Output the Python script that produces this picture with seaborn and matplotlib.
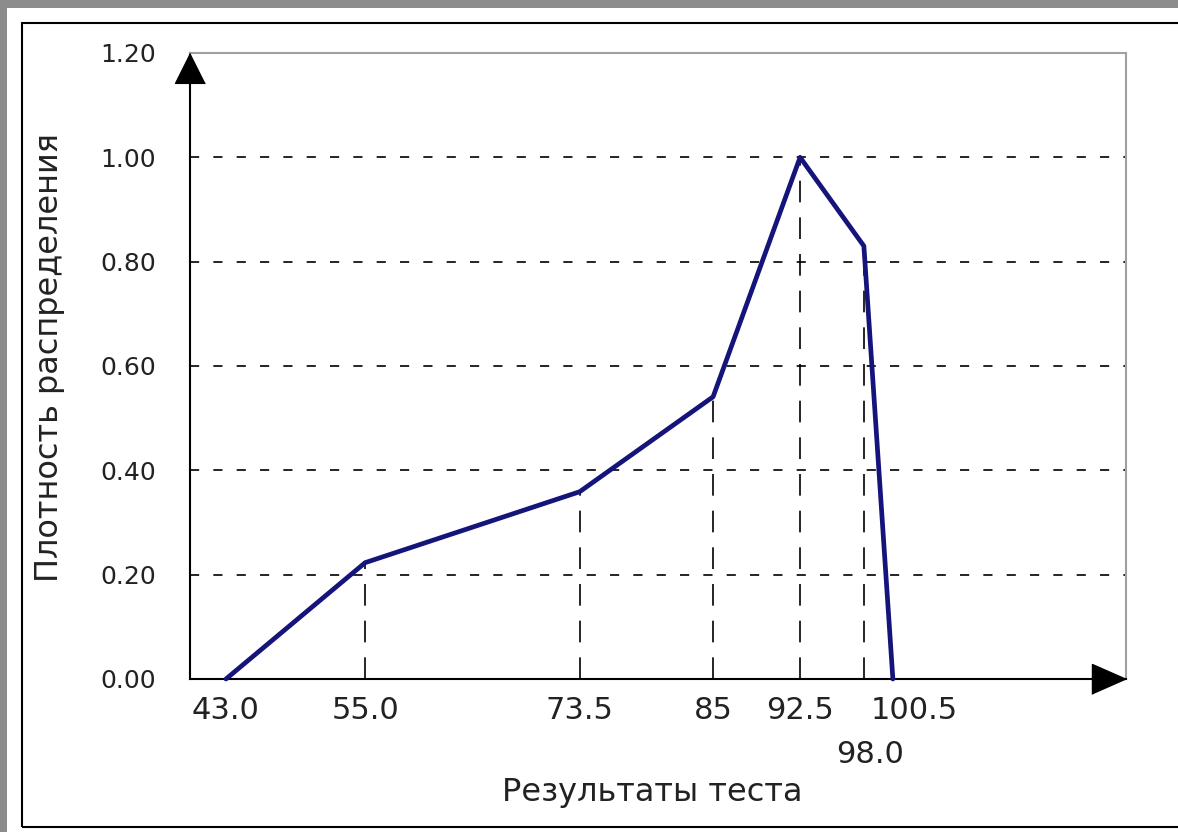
import matplotlib
matplotlib.use("Agg")
import matplotlib.pyplot as plt
import matplotlib.patches as mpatches
from matplotlib.transforms import ScaledTranslation
import pandas as pd
import seaborn as sns

# Data
scores = [43.0, 55.0, 73.5, 85.0, 92.5, 98.0, 100.5]
density = [0.0, 0.223, 0.359, 0.541, 1.00, 0.83, 0.0]
tick_labels = ["43.0", "55.0", "73.5", "85", "92.5", "98.0", "100.5"]
y_ticks = [0.0, 0.2, 0.4, 0.6, 0.8, 1.0, 1.2]
x_label = "Результаты теста"
y_label = "Плотность распределения"

df = pd.DataFrame({"score": scores, "density": density})

sns.set_style("white")
plt.rcParams["font.family"] = ["DejaVu Sans"]

W, H = 1178, 832
fig = plt.figure(figsize=(W / 100, H / 100), dpi=100)
fig.patch.set_facecolor("#8c8c8c")

# white card with black frame
fig.add_artist(mpatches.Rectangle((7 / W, 0), 1, 1 - 8 / H, transform=fig.transFigure,
                                  facecolor="white", edgecolor="none", zorder=0))
fig.add_artist(mpatches.Rectangle((22 / W, 5 / H), 1.2, 1 - 28 / H, transform=fig.transFigure,
                                  facecolor="none", edgecolor="black", lw=1.5, zorder=1))

ax = fig.add_axes([190 / W, (H - 679) / H, (1126 - 190) / W, (679 - 53) / H])
ax.set_facecolor("none")

# horizontal dashed grid
for yv in y_ticks[1:-1]:
    ax.axhline(yv, color="black", lw=1.2, linestyle=(0, (5.5, 8.5)), zorder=1)

# vertical dashed drop lines from the curve
ax.vlines(scores[1:-1], 0, density[1:-1], colors="black", lw=1.2,
          linestyles=[(0, (13, 9))], zorder=1)

sns.lineplot(data=df, x="score", y="density", ax=ax, color="#14147a", lw=3.4,
             zorder=3, clip_on=False)

ax.set_xlim(39.9, 120.6)
ax.set_ylim(0, 1.2)

for side in ["top", "right"]:
    ax.spines[side].set_color("#a0a0a0")
    ax.spines[side].set_linewidth(1.5)
for side in ["left", "bottom"]:
    ax.spines[side].set_color("black")
    ax.spines[side].set_linewidth(1.5)

ax.set_yticks(y_ticks)
ax.set_yticklabels([f"{v:.2f}" for v in y_ticks])
ax.tick_params(axis="y", direction="out", length=8.5, width=1.5, color="black",
               pad=16, labelsize=18, labelcolor="#222222")
ax.set_xticks(scores)
ax.set_xticklabels(tick_labels)
ax.tick_params(axis="x", length=0, pad=12, labelsize=22, labelcolor="#222222")

# nudge crowded labels like the original
offsets = {"98.0": (0.06, -0.44), "100.5": (0.21, 0.0)}
for lab in ax.get_xticklabels():
    if lab.get_text() in offsets:
        dx, dy = offsets[lab.get_text()]
        lab.set_transform(lab.get_transform() + ScaledTranslation(dx, dy, fig.dpi_scale_trans))

ax.set_xlabel("")
ax.set_ylabel("")
fig.text(652 / W, 1 - 793 / H, x_label, ha="center", va="center", fontsize=23, color="#222222")
fig.text(50 / W, 1 - 357 / H, y_label, ha="center", va="center", rotation=90,
         fontsize=23, color="#222222")

# arrowheads at axis ends
ax.plot([0], [1], marker=[(0, 0), (-0.5, -1), (0.5, -1)], markersize=43, color="black",
        transform=ax.transAxes, clip_on=False, zorder=5)
ax.plot([1], [0], marker=[(0, 0), (-1, 0.44), (-1, -0.44)], markersize=49, color="black",
        transform=ax.transAxes, clip_on=False, zorder=5)

fig.savefig("out.png", dpi=100, facecolor=fig.get_facecolor())
